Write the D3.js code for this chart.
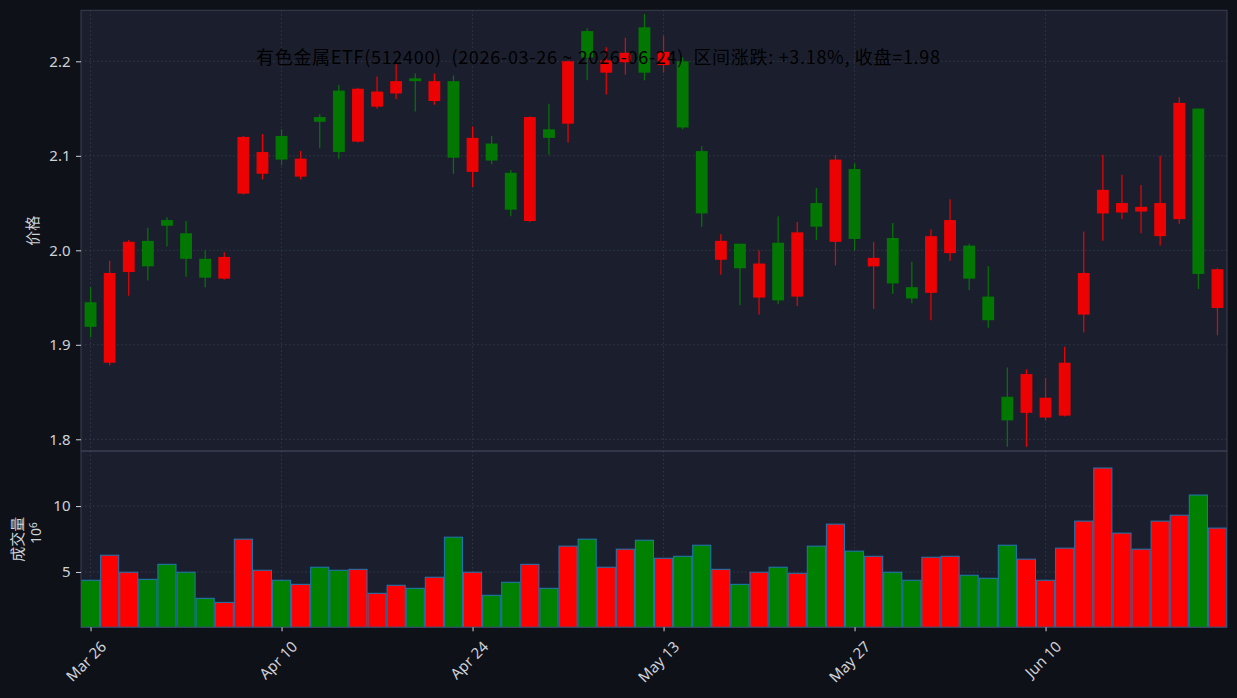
<!DOCTYPE html>
<html><head><meta charset="utf-8">
<script src="https://cdn.jsdelivr.net/npm/d3@7/dist/d3.min.js"></script>
<style>
html,body{margin:0;padding:0;background:#0e1118;}
svg{display:block;}
text{font-family:"Noto Sans CJK SC","Noto Sans",sans-serif;}
</style></head><body>
<svg id="chart" width="1237" height="698"></svg>
<script>
const dates = ["2026-03-26","2026-03-27","2026-03-30","2026-03-31","2026-04-01","2026-04-02","2026-04-03","2026-04-07","2026-04-08","2026-04-09",
"2026-04-10","2026-04-13","2026-04-14","2026-04-15","2026-04-16","2026-04-17","2026-04-20","2026-04-21","2026-04-22","2026-04-23",
"2026-04-24","2026-04-27","2026-04-28","2026-04-29","2026-04-30","2026-05-06","2026-05-07","2026-05-08","2026-05-11","2026-05-12",
"2026-05-13","2026-05-14","2026-05-15","2026-05-18","2026-05-19","2026-05-20","2026-05-21","2026-05-22","2026-05-25","2026-05-26",
"2026-05-27","2026-05-28","2026-05-29","2026-06-01","2026-06-02","2026-06-03","2026-06-04","2026-06-05","2026-06-08","2026-06-09",
"2026-06-10","2026-06-11","2026-06-12","2026-06-15","2026-06-16","2026-06-17","2026-06-18","2026-06-22","2026-06-23","2026-06-24"];
const opens  = [1.945,1.881,1.977,2.010,2.032,2.018,1.991,1.970,2.060,2.081,
2.121,2.078,2.141,2.169,2.115,2.152,2.166,2.182,2.158,2.179,
2.083,2.113,2.082,2.031,2.128,2.134,2.232,2.188,2.199,2.236,
2.196,2.200,2.105,1.990,2.007,1.950,2.008,1.951,2.050,2.009,
2.086,1.983,2.013,1.961,1.955,1.997,2.005,1.951,1.845,1.828,
1.823,1.825,1.932,2.039,2.040,2.041,2.015,2.033,2.150,1.939];
const highs  = [1.961,1.989,2.011,2.024,2.035,2.031,2.000,1.998,2.121,2.123,
2.128,2.105,2.144,2.175,2.172,2.184,2.197,2.187,2.187,2.185,
2.131,2.121,2.085,2.142,2.155,2.201,2.235,2.215,2.225,2.250,
2.227,2.204,2.110,2.017,2.007,2.000,2.036,2.030,2.066,2.101,
2.092,2.009,2.029,1.988,2.022,2.054,2.007,1.983,1.876,1.874,
1.865,1.898,2.020,2.101,2.080,2.069,2.100,2.162,2.150,1.981];
const lows   = [1.908,1.878,1.952,1.968,2.004,1.972,1.961,1.969,2.059,2.075,
2.090,2.075,2.108,2.097,2.114,2.150,2.160,2.147,2.154,2.081,
2.067,2.091,2.036,2.030,2.101,2.114,2.180,2.165,2.186,2.180,
2.188,2.128,2.025,1.974,1.942,1.932,1.943,1.941,2.011,1.984,
2.000,1.938,1.954,1.944,1.926,1.989,1.958,1.918,1.792,1.792,
1.820,1.824,1.913,2.010,2.033,2.018,2.005,2.028,1.959,1.910];
const closes = [1.919,1.976,2.009,1.983,2.026,1.991,1.971,1.993,2.120,2.104,
2.096,2.097,2.136,2.104,2.171,2.168,2.179,2.179,2.179,2.098,
2.119,2.095,2.043,2.141,2.119,2.200,2.204,2.201,2.209,2.188,
2.210,2.130,2.039,2.010,1.981,1.986,1.947,2.019,2.025,2.096,
2.012,1.992,1.965,1.949,2.015,2.032,1.970,1.926,1.820,1.869,
1.844,1.881,1.976,2.064,2.050,2.046,2.050,2.156,1.975,1.980];
// volume in units of 10^6
const volumes = [4.37,6.27,4.98,4.44,5.58,4.98,3.00,2.69,7.49,5.13,
4.37,4.06,5.36,5.13,5.20,3.38,3.99,3.76,4.60,7.64,
4.98,3.23,4.22,5.58,3.76,6.96,7.49,5.36,6.73,7.41,
6.04,6.19,7.03,5.20,4.06,4.98,5.36,4.90,6.96,8.63,
6.58,6.19,4.98,4.37,6.12,6.19,4.75,4.52,7.03,5.97,
4.37,6.81,8.86,12.89,7.95,6.73,8.86,9.31,10.84,8.33];
const priceTicks = [1.8,1.9,2.0,2.1,2.2];
const volumeTicks = [5,10];
const xTickIdx = [0,10,20,30,40,50];
const titleText = "有色金属ETF(512400)  (2026-03-26 ~ 2026-06-24)  区间涨跌: +3.18%, 收盘=1.98";

const svg = d3.select("#chart");
const L = 81, R = 1227, T = 10.3, MID = 451, B = 627.3;
const axBg = "#1b1f2d", spine = "#3a3f52", gridC = "#3a3f50", tickC = "#cfd2d8";
const upC = "#ff0000", dnC = "#008000";

const parse = d3.timeParse("%Y-%m-%d");
const fmt = d3.timeFormat("%b %d");
const n = dates.length;
const x = d3.scaleLinear().domain([-0.5, n - 0.5]).range([L, R]);
const step = x(1) - x(0);
const yP = d3.scaleLinear().domain([1.7876, 2.254]).range([MID, T]);
const yV = d3.scaleLinear().domain([0.8, 14.18]).range([B, MID]);

svg.append("rect").attr("width",1237).attr("height",698).attr("fill","#0e1118");
svg.append("rect").attr("x",L).attr("y",T).attr("width",R-L).attr("height",B-T).attr("fill",axBg);

// grids
const g = svg.append("g");
function vgrid(y0,y1){
  g.selectAll(null).data(xTickIdx).enter().append("line")
   .attr("x1",d=>x(d)).attr("x2",d=>x(d)).attr("y1",y0).attr("y2",y1)
   .attr("stroke",gridC).attr("stroke-width",0.8).attr("stroke-dasharray","1.5,2.5");
}
vgrid(T,MID); vgrid(MID,B);
g.selectAll(null).data(priceTicks).enter().append("line")
 .attr("x1",L).attr("x2",R).attr("y1",d=>yP(d)).attr("y2",d=>yP(d))
 .attr("stroke",gridC).attr("stroke-width",0.8).attr("stroke-dasharray","1.5,2.5");
g.selectAll(null).data(volumeTicks).enter().append("line")
 .attr("x1",L).attr("x2",R).attr("y1",d=>yV(d)).attr("y2",d=>yV(d))
 .attr("stroke",gridC).attr("stroke-width",0.8).attr("stroke-dasharray","1.5,2.5");

const idx = d3.range(n);
const isUp = i => closes[i] >= opens[i];

// candles
const cg = svg.append("g").attr("opacity",0.92);
cg.selectAll("line.wick").data(idx).enter().append("line")
  .attr("x1",i=>x(i)).attr("x2",i=>x(i))
  .attr("y1",i=>yP(highs[i])).attr("y2",i=>yP(lows[i]))
  .attr("stroke",i=>isUp(i)?upC:dnC).attr("stroke-width",1.2);
const bw = step*0.62;
cg.selectAll("rect.body").data(idx).enter().append("rect")
  .attr("x",i=>x(i)-bw/2).attr("width",bw)
  .attr("y",i=>yP(Math.max(opens[i],closes[i])))
  .attr("height",i=>Math.max(1,Math.abs(yP(opens[i])-yP(closes[i]))))
  .attr("fill",i=>isUp(i)?upC:dnC);

// volume bars
const vw = step*0.95;
svg.append("g").selectAll("rect").data(idx).enter().append("rect")
  .attr("x",i=>x(i)-vw/2).attr("width",vw)
  .attr("y",i=>yV(volumes[i])).attr("height",i=>B-yV(volumes[i]))
  .attr("fill",i=>isUp(i)?upC:dnC)
  .attr("stroke","#1f77b4").attr("stroke-width",1);

// spines
svg.append("rect").attr("x",L).attr("y",T).attr("width",R-L).attr("height",MID-T)
  .attr("fill","none").attr("stroke",spine).attr("stroke-width",1);
svg.append("rect").attr("x",L).attr("y",MID).attr("width",R-L).attr("height",B-MID)
  .attr("fill","none").attr("stroke",spine).attr("stroke-width",1);

// axes
function styleAxis(sel){
  sel.select(".domain").remove();
  sel.selectAll(".tick line").attr("stroke",tickC);
  sel.selectAll(".tick text").attr("fill",tickC).style("font-size","15px")
     .style("font-family",'"Noto Sans","DejaVu Sans",sans-serif');
}
svg.append("g").attr("transform",`translate(${L},0)`)
  .call(d3.axisLeft(yP).tickValues(priceTicks).tickFormat(d3.format(".1f")).tickSize(5).tickPadding(5.5))
  .call(styleAxis);
svg.append("g").attr("transform",`translate(${L},0)`)
  .call(d3.axisLeft(yV).tickValues(volumeTicks).tickFormat(d3.format("d")).tickSize(5).tickPadding(5.5))
  .call(styleAxis);
const xa = svg.append("g").attr("transform",`translate(0,${B})`)
  .call(d3.axisBottom(x).tickValues(xTickIdx).tickFormat(i=>fmt(parse(dates[i]))).tickSize(4).tickPadding(4))
  .call(styleAxis);
xa.selectAll(".tick text").attr("text-anchor","end").attr("dy","0.35em")
  .attr("transform","translate(7,11) rotate(-45)");

// labels
svg.append("text").attr("transform",`translate(38,${(T+MID)/2}) rotate(-90)`)
  .attr("text-anchor","middle").attr("fill",tickC).style("font-size","15px").text("价格");
svg.append("text").attr("transform",`translate(23,${(MID+B)/2}) rotate(-90)`)
  .attr("text-anchor","middle").attr("fill",tickC).style("font-size","15px").text("成交量");
const off = svg.append("text").attr("transform",`translate(41,${(MID+B)/2-6}) rotate(-90)`)
  .attr("text-anchor","middle").attr("fill",tickC).style("font-size","14px")
  .style("font-family",'"Noto Sans","DejaVu Sans",sans-serif');
off.append("tspan").text("10");
off.append("tspan").attr("dy","-0.45em").style("font-size","10px").text("6");

// title
svg.append("text").attr("x",598).attr("y",64).attr("text-anchor","middle")
  .attr("fill","#000").style("font-size","18px").style("white-space","pre")
  .attr("textLength",684).attr("lengthAdjust","spacing").text(titleText);
</script>
</body></html>
